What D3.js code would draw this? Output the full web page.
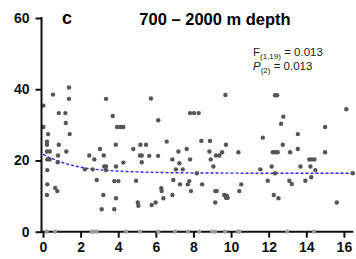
<!DOCTYPE html>
<html>
<head>
<meta charset="utf-8">
<script src="https://cdn.jsdelivr.net/npm/d3@7"></script>
<style>
  body { margin: 0; background: #fff; }
  svg { font-family: "Liberation Sans", Arial, sans-serif; }
</style>
</head>
<body>
<div id="chart"></div>
<script>
// distance (x) and value (y) of each sample
var xVals = [0.02, 0.02, 0.27, 0.21, 0.21, 0.21, 0.36, 0.23, 0.36, 0.23, 0.23, 0.21, 0.65, 0.76,
  0.53, 1.38, 1.38, 0.84, 1.19, 1.21, 1.42, 0.84, 0.80, 0.78, 1.24,
  2.23, 2.46, 2.73, 2.64, 2.86, 3.03, 3.23, 3.21, 3.12, 3.26, 3.35, 3.35,
  3.87, 3.88, 3.79, 4.01, 3.88, 3.79, 3.94, 4.12, 4.27, 4.27, 3.35, 3.71,
  4.80, 4.95, 5.04, 5.07, 5.16, 5.25, 5.18, 5.48, 5.25, 5.65, 5.78, 5.99,
  6.12, 6.40, 6.29, 6.31, 6.58, 6.88, 6.93, 6.88, 7.20, 5.74, 6.13,
  7.82, 8.03, 8.28, 7.64, 7.25, 7.07, 7.43, 7.82, 8.18, 7.29, 7.70, 7.78, 8.46, 7.87,
  8.42, 8.88, 8.85, 8.92, 9.06, 9.20, 9.38, 9.52, 9.73, 9.70, 10.39,
  9.16, 9.24, 9.64, 9.77, 9.73, 9.82, 9.16, 10.54, 10.44,
  11.69, 12.34, 12.45, 12.78, 12.66, 12.75, 12.22, 12.34, 12.48, 13.14, 13.55, 13.55,
  12.16, 12.34, 11.56, 11.95, 12.27, 12.52, 13.10, 13.23, 13.69,
  14.16, 14.29, 14.43, 14.22, 14.48, 14.26, 13.95, 15.0, 15.0, 15.62, 16.13, 16.47];
var yVals = [35.4, 29.4, 27.4, 25.3, 24.4, 22.5, 22.5, 20.3, 20.3, 17.3, 13.3, 10.3, 12.3, 11.4,
  38.5, 40.5, 37.3, 33.3, 33.3, 30.5, 27.4, 24.4, 21.4, 19.5, 22.5,
  17.5, 21.4, 20.3, 17.5, 14.5, 23.2, 21.4, 10.3, 6.3, 18.3, 18.3, 17.3,
  24.4, 18.3, 14.2, 14.2, 9.4, 6.3, 29.4, 29.4, 29.4, 19.4, 37.3, 32.5,
  23.2, 14.3, 8.2, 7.3, 21.4, 21.4, 24.4, 24.4, 19.5, 21.3, 7.5, 8.2,
  21.3, 9.4, 12.2, 11.4, 25.3, 20.3, 14.5, 10.3, 22.5, 37.4, 31.3,
  33.3, 33.3, 33.3, 23.2, 19.2, 17.5, 17.5, 20.3, 16.4, 13.3, 13.3, 14.2, 13.3, 11.4,
  25.5, 25.5, 22.5, 20.3, 18.3, 21.4, 21.4, 22.3, 24.4, 38.4, 22.3,
  11.4, 11.4, 10.3, 10.1, 9.5, 9.5, 8.2, 13.3, 11.4,
  26.4, 38.3, 38.3, 32.3, 30.3, 24.4, 22.3, 22.3, 22.3, 22.3, 27.4, 23.2,
  18.3, 16.4, 17.5, 14.3, 10.3, 9.4, 14.3, 13.4, 18.3,
  20.3, 20.3, 20.3, 18.3, 17.3, 15.3, 14.3, 22.3, 29.4, 8.2, 34.4, 16.4];

// samples that sit on zero
var zeroX = [0.20, 0.64, 2.59, 2.71, 2.86, 4.41, 5.16, 6.13, 7.02, 7.70, 8.31, 8.99,
  9.16, 9.69, 10.36, 10.44, 12.98, 14.40];

// fitted curve (blue dashed)
var fitX = [0, 0.5, 1, 1.5, 2, 3, 4, 5, 6, 8, 10, 12, 14, 16.47];
var fitY = [21.7, 20.5, 19.5, 18.7, 18.1, 17.4, 17.0, 16.8, 16.65, 16.5, 16.45, 16.4, 16.4, 16.4];

var xTicks = [0, 2, 4, 6, 8, 10, 12, 14, 16];
var yTicks = [0, 20, 40, 60];

var svgWidth = 356;
var svgHeight = 259;

var svg = d3.select("#chart")
  .append("svg")
  .attr("width", svgWidth)
  .attr("height", svgHeight);

var xScale = d3.scaleLinear()
  .domain([0, 16.5])
  .range([43, 353.3]);

var yScale = d3.scaleLinear()
  .domain([0, 60])
  .range([231.7, 18]);

// fitted line
var fitData = fitX.map(function (d, i) { return [d, fitY[i]]; });
var line = d3.line()
  .x(d => xScale(d[0]))
  .y(d => yScale(d[1]))
  .curve(d3.curveMonotoneX);

svg.append("path")
  .datum(fitData)
  .attr("d", line)
  .attr("fill", "none")
  .attr("stroke", "#2525f5")
  .attr("stroke-width", 1.4)
  .attr("stroke-dasharray", "3,2");

// points
var pts = xVals.map(function (d, i) { return { x: d, y: yVals[i] }; });
svg.append("g")
  .selectAll("circle")
  .data(pts)
  .enter()
  .append("circle")
  .attr("cx", d => xScale(d.x))
  .attr("cy", d => yScale(d.y))
  .attr("r", 2.2)
  .attr("fill", "#555");

// axes
var bottomAxis = d3.axisBottom(xScale)
  .tickValues(xTicks)
  .tickSizeOuter(0)
  .tickSize(6)
  .tickPadding(4);

var leftAxis = d3.axisLeft(yScale)
  .tickValues(yTicks)
  .tickSizeOuter(0)
  .tickSize(6)
  .tickPadding(6);

var xAxisG = svg.append("g")
  .attr("transform", "translate(0, 231.7)")
  .call(bottomAxis);

var yAxisG = svg.append("g")
  .attr("transform", "translate(41.5, 0)")
  .call(leftAxis);

xAxisG.select(".domain").attr("d", "M40.5,0H353.3");
yAxisG.select(".domain").attr("d", "M0,17V232.7");

[xAxisG, yAxisG].forEach(function (g) {
  g.select(".domain").attr("stroke", "#111").attr("stroke-width", 2);
  g.selectAll(".tick line").attr("stroke", "#111").attr("stroke-width", 2);
  g.selectAll(".tick text")
    .attr("fill", "#111")
    .style("font-size", "14px")
    .style("font-weight", "bold")
    .style("font-family", "'Liberation Sans', Arial, sans-serif");
});

// zero samples on top of the axis
svg.append("g")
  .selectAll("circle")
  .data(zeroX)
  .enter()
  .append("circle")
  .attr("cx", d => xScale(d))
  .attr("cy", yScale(0))
  .attr("r", 2.1)
  .attr("fill", "#9a9a9a");

// panel letter and title
svg.append("text")
  .attr("x", 62)
  .attr("y", 24)
  .style("font-size", "18px")
  .style("font-weight", "bold")
  .text("c");

svg.append("text")
  .attr("x", 215)
  .attr("y", 25)
  .attr("text-anchor", "middle")
  .style("font-size", "16.5px")
  .style("font-weight", "bold")
  .text("700 \u2013 2000 m depth");

// statistics
var stat1 = svg.append("text")
  .attr("x", 253)
  .attr("y", 56)
  .style("font-size", "11.5px")
  .attr("fill", "#222");
stat1.append("tspan").text("F");
stat1.append("tspan").attr("dy", 3).style("font-size", "8px").text("(1,19)");
stat1.append("tspan").attr("dy", -3).text(" = 0.013");

var stat2 = svg.append("text")
  .attr("x", 253)
  .attr("y", 70)
  .style("font-size", "11.5px")
  .attr("fill", "#222");
stat2.append("tspan").style("font-style", "italic").text("P");
stat2.append("tspan").attr("dy", 3).style("font-size", "8px").text("(2)");
stat2.append("tspan").attr("dy", -3).text(" = 0.013");
</script>
</body>
</html>
